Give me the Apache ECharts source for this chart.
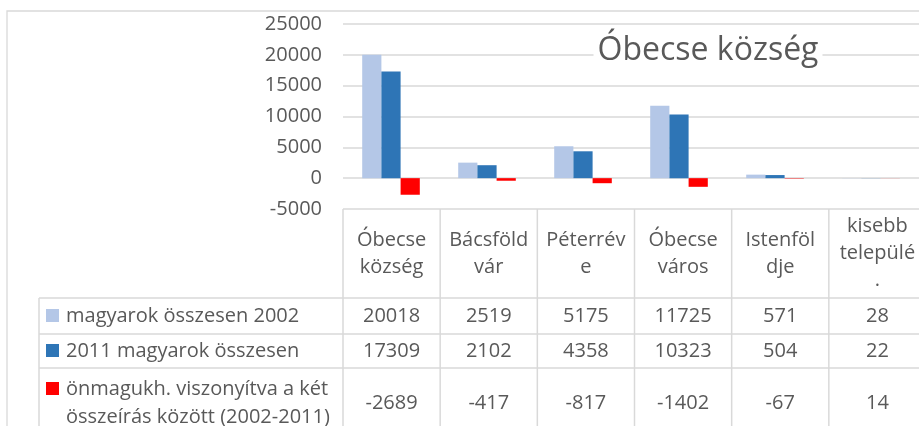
<!DOCTYPE html>
<html>
<head>
<meta charset="utf-8">
<script src="https://cdn.jsdelivr.net/npm/echarts@6/dist/echarts.min.js"></script>
<style>
  html, body { margin: 0; padding: 0; background: #fff; }
  #chart { width: 919px; height: 426px; }
</style>
</head>
<body>
<div id="chart"></div>
<script>
// Óbecse község – magyarok száma 2002 / 2011
const categories = ['Óbecse\nközség', 'Bácsföld\nvár', 'Péterrév\ne', 'Óbecse\nváros', 'Istenföl\ndje', 'kisebb\ntelepülé\n.'];
const seriesNames = ['magyarok összesen 2002', '2011 magyarok összesen', 'önmagukh. viszonyítva a két összeírás között (2002-2011)'];
const legendLabels = ['magyarok összesen 2002', '2011 magyarok összesen', 'önmagukh. viszonyítva a két\nösszeírás között (2002-2011)'];
const magyarok2002 = [20018, 2519, 5175, 11725, 571, 28];
const magyarok2011 = [17309, 2102, 4358, 10323, 504, 22];
const valtozas = [-2689, -417, -817, -1402, -67, 14];
const yMin = -5000, yMax = 25000, yStep = 5000;
const colors = ['#b4c7e7', '#2e75b6', '#ff0000'];

const FONT = '"Open Sans", "Noto Sans", sans-serif';
const TEXT = '#595959';
const LINE = '#d9d9d9';

// elrendezés
const gridLeft = 343, gridTop = 24, gridWidth = 583, gridHeight = 185;
const colW = gridWidth / categories.length;
const tableTop = gridTop + gridHeight;          // -5000 vonal
const rowTops = [298, 334, 368, 438];           // adatsorok határai
const legendLeft = 39;

function initChart() {
    const chartDom = document.getElementById('chart');
    const chart = echarts.init(chartDom);
    const rows = [magyarok2002, magyarok2011, valtozas];

    const graphic = [];
    // külső keret
    graphic.push({ type: 'rect', shape: { x: 7, y: 11, width: 940, height: 440 },
        style: { fill: 'none', stroke: LINE, lineWidth: 1.3 }, silent: true });
    // cím (fehér háttérrel, a rácsvonalak fölött)
    graphic.push({ type: 'text', z: 100, style: { text: 'Óbecse község', x: 708, y: 51, align: 'center',
        verticalAlign: 'middle', font: '32px ' + FONT, fill: TEXT,
        backgroundColor: '#fff', padding: [0, 4] } });

    // táblázat vonalai
    const right = gridLeft + gridWidth;
    for (let i = 0; i <= categories.length; i++) {
        const x = gridLeft + i * colW;
        graphic.push({ type: 'line', shape: { x1: x, y1: tableTop, x2: x, y2: 440 },
            style: { stroke: LINE, lineWidth: 1.5 }, silent: true });
    }
    graphic.push({ type: 'line', shape: { x1: legendLeft, y1: rowTops[0], x2: legendLeft, y2: 440 },
        style: { stroke: LINE, lineWidth: 1.5 }, silent: true });
    rowTops.slice(0, 3).forEach(y => {
        graphic.push({ type: 'line', shape: { x1: legendLeft, y1: y, x2: right, y2: y },
            style: { stroke: LINE, lineWidth: 1.5 }, silent: true });
    });

    // fejléc
    categories.forEach((c, i) => {
        graphic.push({ type: 'text', style: { text: c, x: gridLeft + (i + 0.5) * colW,
            y: (tableTop + rowTops[0]) / 2, align: 'center', verticalAlign: 'middle',
            font: '20px ' + FONT, lineHeight: 27, fill: TEXT } });
    });

    // adatsorok + jelmagyarázat
    rows.forEach((vals, r) => {
        const cy = (rowTops[r] + rowTops[r + 1]) / 2;
        const lines = legendLabels[r].split('\n').length;
        const firstLineY = cy - (lines - 1) * 14;
        graphic.push({ type: 'rect', shape: { x: 46, y: firstLineY - 7, width: 13, height: 13 },
            style: { fill: colors[r] } });
        graphic.push({ type: 'text', style: { text: legendLabels[r], x: 66, y: cy,
            align: 'left', verticalAlign: 'middle', font: '20px ' + FONT, lineHeight: 28, fill: TEXT } });
        vals.forEach((v, i) => {
            graphic.push({ type: 'text', style: { text: String(v), x: gridLeft + (i + 0.5) * colW,
                y: cy, align: 'center', verticalAlign: 'middle', font: '20px ' + FONT, fill: TEXT } });
        });
    });

    const option = {
        animation: false,
        grid: { left: gridLeft, top: gridTop, width: gridWidth, height: gridHeight, containLabel: false },
        xAxis: {
            type: 'category',
            data: categories,
            axisLine: { show: false },
            axisTick: { show: false },
            axisLabel: { show: false }
        },
        yAxis: {
            type: 'value',
            min: yMin, max: yMax, interval: yStep,
            axisLine: { show: false },
            axisTick: { show: false },
            axisLabel: { color: TEXT, fontFamily: FONT, fontSize: 20, margin: 21,
                formatter: v => String(v) },
            splitLine: { lineStyle: { color: LINE, width: 1.5 } }
        },
        series: [
            { name: seriesNames[0], type: 'bar', data: magyarok2002, itemStyle: { color: colors[0] },
              barGap: '0%', barCategoryGap: '40%' },
            { name: seriesNames[1], type: 'bar', data: magyarok2011, itemStyle: { color: colors[1] } },
            { name: seriesNames[2], type: 'bar', data: valtozas, itemStyle: { color: colors[2] } }
        ],
        graphic: graphic
    };

    chart.setOption(option);
    window.addEventListener('resize', () => chart.resize());
}

document.addEventListener('DOMContentLoaded', function() {
    if (typeof echarts === 'undefined') {
        console.error('ECharts nem töltődött be!');
        return;
    }
    initChart();
});
</script>
</body>
</html>
